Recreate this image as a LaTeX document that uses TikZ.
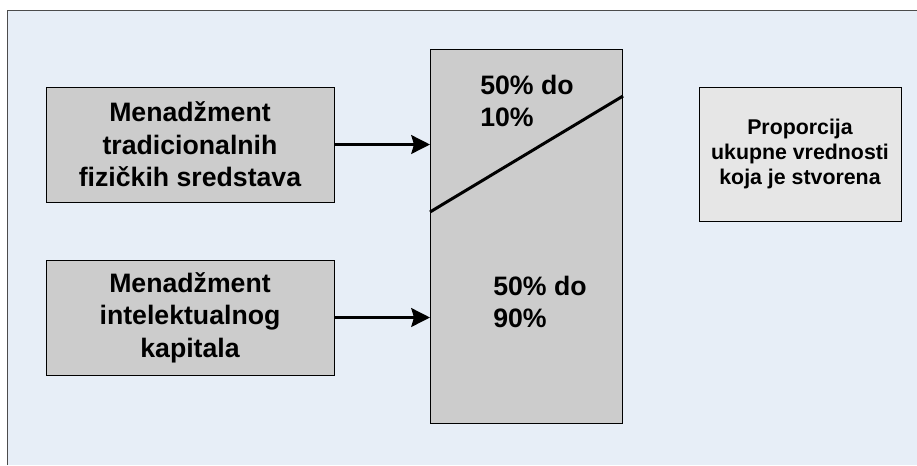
\documentclass[tikz,border=0pt]{standalone}
\usepackage{fontspec}
\setmainfont{Liberation Sans}
\usepackage{xcolor}
\usetikzlibrary{arrows.meta, positioning, calc}
\definecolor{pozadina}{HTML}{E7EEF7}
\definecolor{sivo}{HTML}{CCCCCC}
\definecolor{svetlosivo}{HTML}{E6E6E6}

\begin{document}
\begin{tikzpicture}[
    x=0.75pt, y=-0.75pt,   % 1 jedinica = 1 piksel, y ide nadole
    >={Stealth[length=14pt, width=14pt, inset=2pt]},
    font=\bfseries,
    % Stilovi blokova
    blok/.style={rectangle, draw=black, line width=0.75pt, fill=sivo, minimum width=216pt, minimum height=86.25pt, inner sep=0pt, align=center, font=\bfseries\fontsize{20}{24.5}\selectfont},
    stub/.style={rectangle, draw=black, line width=0.75pt, fill=sivo, minimum width=144pt, minimum height=280.5pt, inner sep=0pt},
    malblok/.style={rectangle, draw=black, line width=0.75pt, fill=svetlosivo, minimum width=151.5pt, minimum height=100.5pt, inner sep=0pt, align=center, font=\bfseries\fontsize{16}{18.5}\selectfont},
    procenat/.style={align=left, inner sep=0pt, font=\bfseries\fontsize{20}{24.5}\selectfont},
    strelica/.style={line width=2.25pt, ->},
    linija/.style={line width=2.25pt},
    okvir/.style={draw=black!70, line width=0.75pt}
]
    \useasboundingbox (0,0) rectangle (917,465);

    % --- 1. POZADINA ---
    \fill[pozadina] (7,10) rectangle (917,465);
    \draw[okvir] (7,465) -- (7,10) -- (917,10);

    % --- 2. BLOKOVI ---
    \node[blok] (fizicki) at (190,144.5) {Menadžment\\tradicionalnih\\fizičkih sredstava};

    \node[blok, below=42.75pt of fizicki] (intelekt) {Menadžment\\intelektualnog\\kapitala};

    % Stub sa procentima
    \node[stub, anchor=north west] (vrednost) at (430,49) {};

    \node[malblok] (proporcija) at (800,154) {Proporcija\\ukupne vrednosti\\koja je stvorena};

    % Procenti u stubu
    \node[procenat, anchor=west] (gornji) at (480,101) {50\% do\\10\%};
    \node[procenat, anchor=west] (donji) at (493,302) {50\% do\\90\%};

    % --- 3. STRELICE ---
    \draw[strelica] (fizicki.east) -- (fizicki.east -| vrednost.west);
    \draw[strelica] (intelekt.east) -- (intelekt.east -| vrednost.west);

    % Kosa linija kroz stub
    \draw[linija] ($(vrednost.north west)+(0,163)$) -- ($(vrednost.north east)+(0,47)$);

\end{tikzpicture}
\end{document}
